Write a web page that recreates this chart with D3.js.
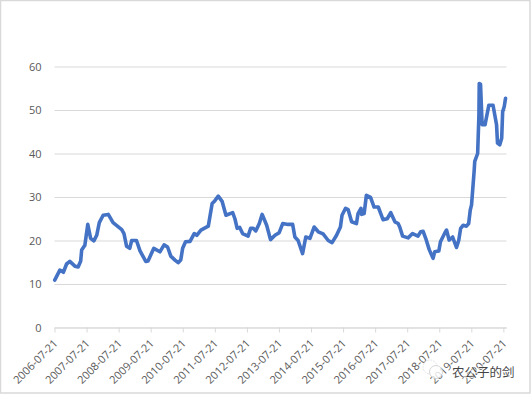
<!DOCTYPE html>
<html>
<head>
<meta charset="utf-8">
<script src="https://cdnjs.cloudflare.com/ajax/libs/d3/7.8.5/d3.min.js"></script>
<style>
html, body { margin: 0; padding: 0; background: #fff; }
svg { display: block; }
text { font-family: "Open Sans", "Liberation Sans", sans-serif; }
</style>
</head>
<body>
<div id="the_chart"></div>
<script>
// decimal years
var years = [2006.56,2006.72,2006.83,2006.93,2007.03,2007.19,2007.29,2007.37,2007.40,2007.50,2007.59,2007.68,2007.78,2007.87,2007.95,
  2008.07,2008.23,2008.38,2008.65,2008.72,2008.80,2008.90,2008.96,2009.11,2009.22,2009.40,2009.47,2009.65,2009.84,2009.97,
  2010.08,2010.18,2010.31,2010.41,2010.49,2010.55,2010.64,2010.78,2010.91,2010.99,2011.12,2011.35,2011.47,2011.55,2011.66,2011.78,2011.90,
  2012.11,2012.18,2012.25,2012.33,2012.42,2012.59,2012.67,2012.75,2012.83,2012.94,2013.03,2013.17,2013.29,2013.43,2013.56,2013.67,2013.84,2013.98,
  2014.05,2014.15,2014.29,2014.39,2014.52,2014.65,2014.78,2014.93,2015.09,2015.21,2015.35,2015.47,2015.52,2015.63,2015.71,2015.82,2015.97,
  2016.02,2016.11,2016.13,2016.21,2016.28,2016.41,2016.52,2016.65,2016.80,2016.93,2017.04,2017.17,2017.27,2017.32,2017.41,2017.58,2017.72,2017.89,2017.97,
  2018.05,2018.13,2018.24,2018.36,2018.41,2018.54,2018.59,2018.73,2018.78,2018.86,2018.97,2019.09,2019.16,2019.22,2019.30,2019.40,2019.47,2019.52,2019.56,2019.64,2019.66,2019.75,2019.79,2019.80,2019.84,2019.89,2019.98,
  2020.10,2020.23,2020.34,2020.37,2020.44,2020.50,2020.53,2020.58,2020.62];
var values = [10.9,13.2,12.7,14.6,15.2,14.1,13.9,15.3,17.8,18.9,23.7,20.5,19.9,21.2,24.1,
  25.8,26,24.1,22.5,21.6,18.7,18.2,20,20,17.6,15.2,15.3,18.2,17.4,19,
  18.5,16.4,15.5,14.9,15.5,18.2,19.7,19.8,21.6,21.2,22.4,23.3,28.5,29.1,30.2,29,25.8,
  26.4,25,22.8,23,21.6,21,22.8,22.8,22.2,23.9,26,23.5,20.2,21.2,21.8,23.9,23.7,23.7,
  20.8,20,17,20.8,20.5,23.1,22,21.5,20,19.5,21.2,23.1,25.8,27.4,27.1,24.3,23.9,
  26.2,27.4,26,26.2,30.4,29.9,27.7,27.7,24.8,25,26.4,24.3,23.9,23.1,21,20.6,21.6,21,22,
  22.1,20.5,17.9,15.9,17.4,17.6,19.7,21.8,22.4,20.1,20.8,18.4,20,22.8,23.5,23.3,23.9,27,28.2,35.9,38.2,40,48.9,56.1,55.9,46.6,46.6,
  51.1,51.1,46.6,42.4,42,43.5,49.6,50.8,52.7];
var tickYears = [2006.553,2007.553,2008.553,2009.553,2010.553,2011.553,2012.553,2013.553,2014.553,2015.553,2016.553,2017.553,2018.553,2019.553,2020.553];
var tickLabels = ["2006-07-21","2007-07-21","2008-07-21","2009-07-21","2010-07-21","2011-07-21","2012-07-21","2013-07-21","2014-07-21","2015-07-21","2016-07-21","2017-07-21","2018-07-21","2019-07-21","2020-07-21"];
var yTicks = [0,10,20,30,40,50,60];

var w = 531, h = 395;
var left = 54.5, right = 506.5, top_ = 66.5, bottom = 327.5;
var grey = "#d9d9d9", textcol = "#595959";

var svg = d3.select("#the_chart").append("svg").attr("width", w).attr("height", h);

// outer frame of the pasted chart
svg.append("rect").attr("x", 0.5).attr("y", 0.5).attr("width", w - 1.5).attr("height", h - 2.5)
  .attr("fill", "#fff").attr("stroke", grey).attr("stroke-width", 1.5);

var xscale = d3.scaleLinear().domain([2006.553, 2020.65]).range([left, right]);
var yscale = d3.scaleLinear().domain([0, 60]).range([bottom, top_]);

var gY = svg.append("g").attr("transform", "translate(" + left + ",0)")
  .call(d3.axisLeft(yscale).tickValues(yTicks).tickSize(-(right - left)).tickPadding(13));
gY.select(".domain").remove();
gY.selectAll("line").attr("stroke", grey);
gY.selectAll("text").attr("fill", textcol).style("font-size", "11px");

var gX = svg.append("g").attr("transform", "translate(0," + bottom + ")")
  .call(d3.axisBottom(xscale).tickValues(tickYears).tickSize(5).tickSizeOuter(0)
    .tickFormat(function (d, i) { return tickLabels[i]; }));
gX.select(".domain").attr("stroke", grey);
gX.selectAll("line").attr("stroke", grey);
gX.selectAll("text")
  .attr("fill", textcol).style("font-size", "11px")
  .attr("text-anchor", "end")
  .attr("transform", "translate(1,14) rotate(-45)")
  .attr("dy", "0.32em").attr("y", 0).attr("x", 0);

var line = d3.line()
  .x(function (d) { return xscale(d[0]); })
  .y(function (d) { return yscale(d[1]); });

svg.append("path")
  .datum(d3.zip(years, values))
  .attr("d", line)
  .attr("fill", "none")
  .attr("stroke", "#4472c4")
  .attr("stroke-width", 3.6)
  .attr("stroke-linejoin", "round")
  .attr("stroke-linecap", "round");

// watermark
var mark = svg.append("g");
mark.append("circle").attr("cx", 430).attr("cy", 367).attr("r", 7).attr("fill", "#fff").attr("fill-opacity", 0.8)
  .attr("stroke", "#ddd").attr("stroke-width", 0.8).attr("stroke-dasharray", "2,1");
mark.append("circle").attr("cx", 436).attr("cy", 372).attr("r", 6.5).attr("fill", "#fff").attr("fill-opacity", 0.8)
  .attr("stroke", "#ccc").attr("stroke-width", 0.8);
mark.append("text").attr("x", 452).attr("y", 376.5)
  .style("font-family", '"Noto Sans CJK SC"').style("font-size", "12.5px")
  .attr("fill", "#444").attr("stroke", "#fff").attr("stroke-width", 1.5).attr("stroke-opacity", 0.7)
  .style("paint-order", "stroke")
  .text("农公子的剑");
</script>
</body>
</html>
